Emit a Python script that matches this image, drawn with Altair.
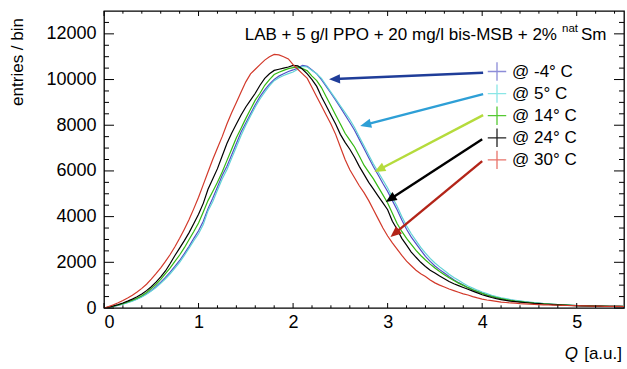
import math
import altair as alt
import pandas as pd

# ---------------- data ----------------
bin_step = 0.05
n_bins = 111  # 0.00 .. 5.50

series_names = ["@ -4° C", "@ 5° C", "@ 14° C", "@ 24° C", "@ 30° C"]

blue_m4 = [0, 30, 72, 120, 175, 240, 315, 400, 500, 625, 770, 940, 1130, 1340, 1570, 1820, 2080, 2380, 2700, 3050,
           3380, 3800, 4350, 4800, 5300, 5800, 6200, 6700, 7200, 7700, 8100, 8500, 8900, 9250, 9550, 9800, 10000, 10150,
           10250, 10350, 10420, 10500, 10620, 10580, 10420, 10250, 10000, 9700, 9400, 9100, 8780, 8450, 8120, 7780, 7380,
           6980, 6580, 6180, 5820, 5450, 5100, 4700, 4300, 3850, 3450, 3100, 2820, 2530, 2260, 2040, 1840, 1680, 1530,
           1380, 1240, 1110, 1000, 890, 800, 720, 650, 580, 520, 465, 420, 380, 345, 315, 290, 265, 245, 225, 205, 188,
           172, 158, 145, 135, 125, 116, 108, 102, 96, 90, 86, 82, 78, 75, 72, 70, 67]

cyan_5 = [0, 30, 70, 115, 170, 230, 300, 380, 480, 600, 740, 900, 1080, 1280, 1500, 1750, 2000, 2300, 2620, 2950,
          3250, 3650, 4250, 4650, 5150, 5650, 6050, 6550, 7050, 7550, 8000, 8400, 8800, 9150, 9450, 9720, 9950, 10080,
          10180, 10260, 10330, 10450, 10580, 10550, 10400, 10250, 10050, 9750, 9450, 9150, 8850, 8550, 8250, 7900, 7500,
          7100, 6700, 6300, 5950, 5600, 5250, 4850, 4450, 4000, 3600, 3250, 2950, 2650, 2400, 2170, 1970, 1800, 1640,
          1480, 1340, 1210, 1080, 960, 870, 780, 700, 630, 560, 500, 450, 410, 370, 340, 310, 280, 255, 235, 215, 195,
          180, 165, 152, 140, 130, 120, 110, 104, 98, 92, 88, 84, 80, 77, 74, 71, 68]

green_14 = [0, 35, 80, 130, 190, 260, 340, 430, 540, 680, 850, 1040, 1250, 1500, 1760, 2040, 2320, 2640, 3000, 3350,
            3720, 4200, 4700, 5100, 5500, 5950, 6450, 6950, 7450, 7870, 8300, 8700, 9100, 9400, 9750, 10000, 10220,
            10320, 10400, 10480, 10520, 10550, 10480, 10380, 10150, 9950, 9650, 9250, 8850, 8450, 8050, 7650, 7350,
            7050, 6650, 6250, 5950, 5650, 5300, 4950, 4600, 4150, 3700, 3350, 3050, 2780, 2520, 2300, 2100, 1920, 1750,
            1600, 1460, 1320, 1200, 1090, 990, 890, 800, 720, 640, 570, 510, 460, 410, 370, 335, 305, 280, 255, 235,
            215, 200, 185, 170, 158, 145, 135, 125, 115, 105, 100, 95, 90, 85, 82, 78, 75, 72, 70, 68]

black_24 = [0, 40, 90, 150, 220, 300, 390, 490, 610, 760, 930, 1130, 1360, 1620, 1950, 2300, 2620, 2950, 3300, 3700,
            4100, 4580, 5200, 5650, 6100, 6650, 7200, 7650, 8050, 8450, 8800, 9100, 9400, 9750, 10050, 10250, 10400,
            10450, 10500, 10550, 10620, 10600, 10450, 10250, 10000, 9700, 9250, 8850, 8450, 8050, 7600, 7250, 6950,
            6600, 6200, 5850, 5500, 5200, 4900, 4600, 4300, 3800, 3450, 3050, 2750, 2450, 2220, 2000, 1820, 1650, 1530,
            1400, 1280, 1160, 1060, 980, 900, 820, 740, 660, 580, 520, 460, 410, 370, 330, 300, 280, 260, 240, 220, 200,
            190, 175, 165, 150, 140, 130, 120, 110, 100, 95, 90, 85, 82, 80, 76, 73, 70, 68, 66]

red_30 = [0, 60, 140, 230, 330, 440, 560, 700, 860, 1040, 1260, 1500, 1760, 2040, 2340, 2680, 3050, 3450, 3870, 4350,
          4850, 5400, 5950, 6500, 7000, 7500, 8050, 8550, 9000, 9450, 9900, 10250, 10450, 10650, 10850, 11000, 11100,
          11080, 11000, 10900, 10650, 10450, 10250, 10050, 9650, 9250, 8850, 8450, 8050, 7600, 7050, 6500, 6050, 5700,
          5350, 5050, 4700, 4300, 3900, 3500, 3150, 2850, 2580, 2300, 2050, 1850, 1650, 1500, 1380, 1230, 1100, 1000,
          920, 830, 760, 690, 620, 570, 500, 440, 390, 350, 320, 290, 260, 240, 220, 210, 190, 180, 170, 160, 150, 140,
          135, 130, 120, 115, 110, 105, 100, 95, 90, 85, 80, 78, 75, 72, 70, 68, 65]

line_colors = ["#4f4fc8", "#62d2d6", "#33b812", "#000000", "#d2392a"]
cross_colors = ["#8c8cd8", "#8ae6e6", "#55c933", "#222222", "#e8736a"]
arrow_colors = ["#1f3d99", "#2e9fd6", "#b5db3c", "#000000", "#b32418"]

# arrows: (x_start, y_start, x_tip, y_tip) in data units
arrow_x0 = [4.01, 4.01, 4.01, 4.00, 4.00]
arrow_y0 = [10300, 9360, 8440, 7390, 6430]
arrow_x1 = [2.38, 2.71, 2.86, 2.98, 3.03]
arrow_y1 = [10010, 7970, 5950, 4640, 3110]

x_major = [0, 1, 2, 3, 4, 5]
x_minor = [0.2, 0.4, 0.6, 0.8, 1.2, 1.4, 1.6, 1.8, 2.2, 2.4, 2.6, 2.8, 3.2, 3.4, 3.6, 3.8, 4.2, 4.4, 4.6, 4.8, 5.2, 5.4]
y_major = [0, 2000, 4000, 6000, 8000, 10000, 12000]
y_minor = [500, 1000, 1500, 2500, 3000, 3500, 4500, 5000, 5500, 6500, 7000, 7500, 8500, 9000, 9500,
           10500, 11000, 11500, 12500]

title_main = "LAB + 5 g/l PPO + 20 mg/l bis-MSB + 2%"
title_sup = "nat"
title_end = "Sm"

# ---------------- layout ----------------
W, H = 520, 297
X_DOM = [0, 5.5]
Y_DOM = [0, 13000]
FONT = "Liberation Sans"

xs = [round(i * bin_step, 2) for i in range(n_bins)]
rows = []
for k, (name, vals) in enumerate(zip(series_names, [blue_m4, cyan_5, green_14, black_24, red_30])):
    for x, v in zip(xs, vals):
        rows.append({"Q": x, "entries": v, "series": name, "k": k})
hist = pd.DataFrame(rows)

xscale = alt.Scale(domain=X_DOM, nice=False, zero=False)
yscale = alt.Scale(domain=Y_DOM, nice=False)
xaxis = alt.Axis(values=x_major, title=None, labelPadding=5, format="d", domain=False, ticks=False, grid=False,
                 labelFont=FONT, labelFontSize=18, labelColor="black")
yaxis = alt.Axis(values=y_major, title=None, labelPadding=8, format="d", domain=False, ticks=False, grid=False,
                 labelFont=FONT, labelFontSize=18, labelColor="black")

base_layers = []
for k, name in enumerate(series_names):
    base_layers.append(
        alt.Chart(hist[hist["series"] == name]).mark_line(
            interpolate="linear", strokeWidth=1.2, clip=True, color=line_colors[k]).encode(
            x=alt.X("Q:Q", scale=xscale, axis=xaxis),
            y=alt.Y("entries:Q", scale=yscale, axis=yaxis),
        )
    )

# ticks (inside the frame, all four sides)
def xticks(vals, length):
    df = pd.DataFrame({"t": vals})
    bottom = alt.Chart(df).mark_rule(color="black", strokeWidth=1).encode(
        x=alt.X("t:Q", scale=xscale, axis=xaxis), y=alt.value(H), y2=alt.value(H - length))
    top = alt.Chart(df).mark_rule(color="black", strokeWidth=1).encode(
        x=alt.X("t:Q", scale=xscale, axis=xaxis), y=alt.value(0), y2=alt.value(length))
    return [bottom, top]

def yticks(vals, length):
    df = pd.DataFrame({"t": vals})
    left = alt.Chart(df).mark_rule(color="black", strokeWidth=1).encode(
        y=alt.Y("t:Q", scale=yscale, axis=yaxis), x=alt.value(0), x2=alt.value(length))
    right = alt.Chart(df).mark_rule(color="black", strokeWidth=1).encode(
        y=alt.Y("t:Q", scale=yscale, axis=yaxis), x=alt.value(W), x2=alt.value(W - length))
    return [left, right]

tick_layers = xticks(x_major, 5) + xticks(x_minor, 2.7) + yticks(y_major, 10) + yticks(y_minor, 5)

# arrows
sx = W / (X_DOM[1] - X_DOM[0])
sy = H / (Y_DOM[1] - Y_DOM[0])
HEAD_R = 5.5
arr_rows = []
for x0, y0, x1, y1, c in zip(arrow_x0, arrow_y0, arrow_x1, arrow_y1, arrow_colors):
    dxp = (x1 - x0) * sx
    dyp = -(y1 - y0) * sy
    L = math.hypot(dxp, dyp)
    ux, uy = dxp / L, dyp / L
    ang = math.degrees(math.atan2(ux, -uy)) % 360
    cx = x1 - HEAD_R * ux / sx
    cy = y1 + HEAD_R * uy / sy
    arr_rows.append({"x0": x0, "y0": y0, "xc": cx, "yc": cy, "ang": ang, "col": c})
arr = pd.DataFrame(arr_rows)

arrow_lines = alt.Chart(arr).mark_rule(strokeWidth=2.4).encode(
    x=alt.X("x0:Q", scale=xscale, axis=xaxis), y=alt.Y("y0:Q", scale=yscale, axis=yaxis),
    x2="xc:Q", y2="yc:Q", color=alt.Color("col:N", scale=None))
arrow_heads = alt.Chart(arr).mark_point(
    shape="M0,-1L0.85,1L-0.85,1Z", filled=True, size=HEAD_R * HEAD_R * 4, opacity=1, strokeWidth=0).encode(
    x=alt.X("xc:Q", scale=xscale, axis=xaxis), y=alt.Y("yc:Q", scale=yscale, axis=yaxis),
    angle=alt.Angle("ang:Q", scale=None), color=alt.Color("col:N", scale=None))

# legend
leg = pd.DataFrame({
    "name": series_names,
    "cross": cross_colors,
    "py": [60.5 + 22.1 * i for i in range(5)],
})
leg_cross = alt.Chart(leg).mark_point(
    shape="M-1,0L1,0M0,-1L0,1", filled=False, size=340, strokeWidth=1.3, opacity=1).encode(
    x=alt.value(393), y=alt.Y("py:Q", scale=None, axis=None), color=alt.Color("cross:N", scale=None))
leg_text = alt.Chart(leg).mark_text(
    align="left", baseline="middle", font=FONT, fontSize=17, color="black").encode(
    x=alt.value(408), y=alt.Y("py:Q", scale=None, axis=None), text="name:N")

# title texts
t_df = pd.DataFrame({"a": [title_main], "b": [title_sup], "c": [title_end]})
t1 = alt.Chart(t_df).mark_text(align="right", baseline="alphabetic", font=FONT, fontSize=17, color="black").encode(
    x=alt.value(453), y=alt.value(29), text="a:N")
t2 = alt.Chart(t_df).mark_text(align="left", baseline="alphabetic", font=FONT, fontSize=11.5, color="black").encode(
    x=alt.value(458), y=alt.value(20.5), text="b:N")
t3 = alt.Chart(t_df).mark_text(align="left", baseline="alphabetic", font=FONT, fontSize=17, color="black").encode(
    x=alt.value(477), y=alt.value(29), text="c:N")

# axis titles
ax_df = pd.DataFrame({"q": ["Q"], "u": ["[a.u.]"], "e": ["entries / bin"]})
xt1 = alt.Chart(ax_df).mark_text(align="right", baseline="alphabetic", font=FONT, fontSize=17,
                                 fontStyle="italic", color="black").encode(
    x=alt.value(474), y=alt.value(348), text="q:N")
xt2 = alt.Chart(ax_df).mark_text(align="right", baseline="alphabetic", font=FONT, fontSize=17, color="black").encode(
    x=alt.value(518), y=alt.value(348), text="u:N")
yt = alt.Chart(ax_df).mark_text(align="right", baseline="middle", angle=270, font=FONT, fontSize=17,
                                color="black").encode(
    x=alt.value(-86), y=alt.value(7), text="e:N")

chart = alt.layer(
    *base_layers, *tick_layers, arrow_lines, arrow_heads, leg_cross, leg_text, t1, t2, t3, xt1, xt2, yt
).properties(
    width=W, height=H,
    autosize=alt.AutoSizeParams(type="none"),
    padding={"left": 104, "top": 11, "right": 3, "bottom": 61},
).configure_view(
    stroke="black", strokeWidth=1.3
)

chart.save("out.html", embed_options={"renderer": "svg", "actions": False})
